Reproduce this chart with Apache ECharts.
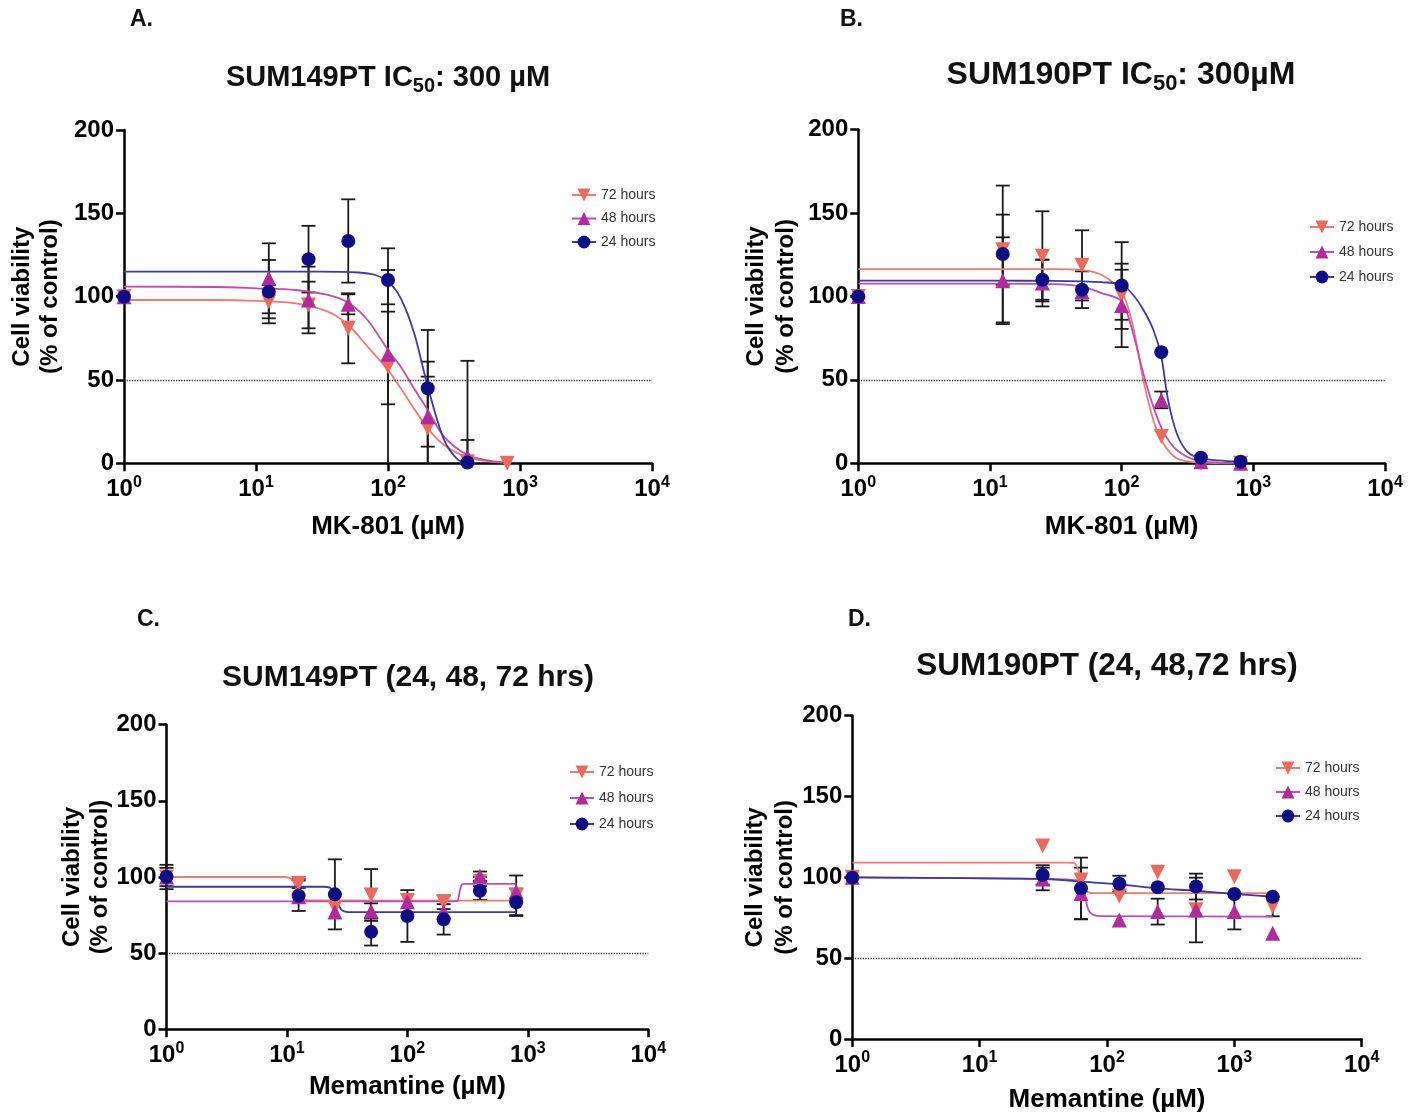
<!DOCTYPE html>
<html><head><meta charset="utf-8">
<script src="https://cdn.jsdelivr.net/npm/echarts@6/dist/echarts.min.js"></script>
<style>html,body{margin:0;padding:0;background:#fff}#c{width:1419px;height:1114px}</style>
</head><body><div id="c"></div>
<script>
// ---------------- DATA ----------------
const seriesNames = ['72 hours', '48 hours', '24 hours'];
const yTickValues = [0, 50, 100, 150, 200];

// Panel A: SUM149PT, MK-801
const concA = [1, 12.5, 25, 50, 100, 200, 400, 800];
const a72 = [100, 97, 95, 81, 58, 21, 1, 0];
const a48 = [100, 111, 98, 95.4, 65.4, 28, 4, null];
const a24 = [100, 103, 122.5, 133.4, 110, 45, 0.5, null];
const a72sd = [0, 10, 14, 21, 58, 31, 0, 0];
const a48sd = [0, 21, 20, 6, 30, 33, 10, 0];
const a24sd = [0, 19, 20, 25, 19, 35, 61, 0];
const aFit72 = [[1,98],[5,98],[10,97.5],[20,96],[35,91],[50,83],[70,70],[100,56],[125,45],[160,32],[200,21],[266,11],[400,3.6],[600,1],[800,0.3]];
const aFit48 = [[1,106],[5,105.8],[10,105],[20,104],[35,101],[50,96.3],[70,86],[100,68],[125,58],[160,44],[200,32],[266,16],[400,5],[600,1.5],[800,0.5]];
const aFit24 = [[1,115],[10,115],[30,115],[60,114.5],[80,113],[100,109],[125,99],[158,78],[200,46],[266,14],[340,2],[400,0.5]];

// Panel B: SUM190PT, MK-801
const concB = [1, 12.5, 25, 50, 100, 200, 400, 800];
const b72 = [100, 128, 124, 118.6, 101, 16, 0.5, 0];
const b48 = [100, 109.4, 108, 103, 94.6, 38, 1, 0];
const b24 = [100, 125.4, 110, 104, 106.5, 66.6, 3.4, 1];
const b72sd = [0, 21, 27, 21, 15, 0, 0, 0];
const b48sd = [0, 26, 14, 0, 25, 5, 0, 0];
const b24sd = [0, 41, 12, 11, 26, 0, 0, 0];
const bFit72 = [[1,116.4],[10,116.4],[30,116.3],[50,115.8],[70,113],[100,103],[122,82],[146,50],[174,26],[207,12],[262,3],[377,0.5],[800,0]];
const bFit48 = [[1,107.6],[10,107.6],[30,107.4],[50,106],[70,102],[100,97],[122,78],[146,54],[174,34],[207,19],[262,8],[377,1.8],[800,0]];
const bFit24 = [[1,109.4],[10,109.4],[30,109.3],[50,109],[70,108.5],[100,107],[122,101],[146,92],[174,80],[200,64],[225,38],[262,18],[315,7],[400,3],[800,1]];

// Panel C: SUM149PT, Memantine
const concC = [1, 12.5, 25, 50, 100, 200, 400, 800];
const c72 = [100, 95.8, 80, 88.2, 84.5, 83.4, 97, 88];
const c48 = [100, 87, 77, 77.7, 83.8, 77.2, 100.6, 90.3];
const c24 = [100.2, 87.7, 88.6, 64, 74.4, 72.2, 91, 83.4];
const c72sd = [8, 3, 0, 17, 0, 4.5, 3, 13];
const c48sd = [6, 0, 0, 5, 0, 0, 3, 0];
const c24sd = [0, 10, 23, 9, 17, 10, 6, 9];
const cFit72 = [[1,100],[9.5,100],[10.5,99.3],[11.3,97],[11.8,93],[12.3,88.5],[13,86],[14,85],[16,84.6],[800,84.5]];
const cFit48 = [[1,84],[250,84],[262,84.6],[268,88],[274,92],[282,94.8],[300,95.5],[800,95.5]];
const cFit24 = [[1,93.6],[20,93.6],[22.7,93],[24.5,90],[26,85],[27.5,80],[29,77.8],[32,77],[800,77]];

// Panel D: SUM190PT, Memantine
const concD = [1, 31.25, 62.5, 125, 250, 500, 1000, 2000];
const d72 = [100, 119.4, 98.4, 88.5, 103.2, 80, 100.4, 81.9];
const d48 = [100, 99, 90, 73.6, 78.8, 79.8, 78.8, 65.4];
const d24 = [99.8, 101.5, 93.2, 96, 93.9, 94.3, 89.7, 88];
const d72sd = [0, 0, 0, 0, 0, 0, 0, 6];
const d48sd = [0, 7, 16, 0, 8, 20, 11, 0];
const d24sd = [0, 6, 19, 5, 0, 8, 0, 0];
const dFit72 = [[1,109.1],[50,109.1],[56,108.5],[60,104],[64,96],[68,92],[72,90.5],[80,90.2],[2000,90.2]];
const dFit48 = [[1,100],[31.25,99],[60,98],[64,96],[67,90],[70,82],[74,78],[80,76.5],[90,76],[2000,75.7]];
const dFit24 = [[1,100],[31.25,99],[62.5,97.3],[125,95.7],[250,93.2],[500,91.7],[1000,89.7],[2000,88]];

// ---------------- STYLE ----------------
const FONT = 'Liberation Sans, Arial, Helvetica, sans-serif';
const pointColors = ['#EC6A5C', '#B22A9C', '#0E0E86'];
const lineColors = ['#F07A72', '#C24DB2', '#3B3BA8'];
const symbols = ['triangle', 'triangle', 'circle'];
const symbolRot = [180, 0, 0];
const symbolSizes = [15, 15, 14];

const panels = [
  { conc: concA, means: [a72, a48, a24], sds: [a72sd, a48sd, a24sd], fits: [aFit72, aFit48, aFit24],
    grid: { left: 124, top: 130, width: 528, height: 333.3 }, xName: 'MK-801 (µM)', xGap: 51, yGap: 60, yLH: 28,
    legend: { left: 566, top: 183, gap: 9.5 } },
  { conc: concB, means: [b72, b48, b24], sds: [b72sd, b48sd, b24sd], fits: [bFit72, bFit48, bFit24],
    grid: { left: 858.3, top: 129.5, width: 526.7, height: 333.8 }, xName: 'MK-801 (µM)', xGap: 51, yGap: 57, yLH: 30,
    legend: { left: 1304, top: 215, gap: 11 } },
  { conc: concC, means: [c72, c48, c24], sds: [c72sd, c48sd, c24sd], fits: [cFit72, cFit48, cFit24],
    grid: { left: 166.5, top: 724.7, width: 481.8, height: 304.6 }, xName: 'Memantine (µM)', xGap: 45, yGap: 52, yLH: 28,
    legend: { left: 564, top: 760, gap: 12 } },
  { conc: concD, means: [d72, d48, d24], sds: [d72sd, d48sd, d24sd], fits: [dFit72, dFit48, dFit24],
    grid: { left: 852.3, top: 715.7, width: 509.4, height: 323.3 }, xName: 'Memantine (µM)', xGap: 48, yGap: 52, yLH: 30,
    legend: { left: 1270, top: 756, gap: 10 } }
];

const grids = [], xAxes = [], yAxes = [], series = [], legends = [];

panels.forEach((p, i) => {
  grids.push(Object.assign({ outerBoundsMode: 'none', containLabel: false }, p.grid));
  xAxes.push({
    type: 'log', logBase: 10, min: 1, max: 10000, gridIndex: i,
    axisLine: { show: true, lineStyle: { color: '#000', width: 2.5 } },
    axisTick: { show: true, length: 8, lineStyle: { color: '#000', width: 2.5 } },
    minorTick: { show: false }, splitLine: { show: false }, minorSplitLine: { show: false },
    axisLabel: {
      margin: 11, color: '#000',
      formatter: v => '{b|10}{s|' + Math.round(Math.log10(v)) + '}',
      rich: {
        b: { fontSize: 24, fontWeight: 'bold', fontFamily: FONT, color: '#000', lineHeight: 30, verticalAlign: 'middle' },
        s: { fontSize: 16, fontWeight: 'bold', fontFamily: FONT, color: '#000', lineHeight: 16, verticalAlign: 'top' }
      }
    },
    name: p.xName, nameLocation: 'middle', nameGap: p.xGap, nameMoveOverlap: false,
    nameTextStyle: { fontSize: 26, fontWeight: 'bold', fontFamily: FONT, color: '#000' }
  });
  yAxes.push({
    type: 'value', min: 0, max: 200, interval: 50, gridIndex: i,
    axisLine: { show: true, lineStyle: { color: '#000', width: 2.5 } },
    axisTick: { show: true, length: 8, lineStyle: { color: '#000', width: 2.5 } },
    splitLine: { show: false },
    axisLabel: { margin: 10, color: '#000', fontSize: 24, fontWeight: 'bold', fontFamily: FONT,
      customValues: yTickValues },
    name: 'Cell viability\n(% of control)', nameLocation: 'middle', nameGap: p.yGap, nameMoveOverlap: false,
    nameTextStyle: { fontSize: 24, fontWeight: 'bold', fontFamily: FONT, color: '#000', lineHeight: p.yLH }
  });
  legends.push({
    orient: 'vertical', left: p.legend.left, top: p.legend.top, itemGap: p.legend.gap,
    itemWidth: 24, itemHeight: 16, selectedMode: false, data: seriesNames,
    textStyle: { fontSize: 14, color: '#333', fontFamily: FONT }
  });
  // fitted curves (first series with each name -> legend icon)
  seriesNames.forEach((nm, s) => {
    const ser = {
      type: 'line', name: nm, xAxisIndex: i, yAxisIndex: i, z: 3,
      data: p.fits[s], showSymbol: false, symbol: symbols[s], symbolRotate: symbolRot[s], symbolSize: symbolSizes[s],
      smooth: 0.3, silent: true,
      lineStyle: { color: lineColors[s], width: 1.8 },
      itemStyle: { color: pointColors[s] }
    };
    if (s === 0) {
      ser.markLine = { silent: true, symbol: 'none', label: { show: false },
        lineStyle: { type: 'dotted', color: '#333', width: 1.3 }, data: [{ yAxis: 50 }] };
    }
    series.push(ser);
  });
  // error bars
  const errData = [];
  seriesNames.forEach((nm, s) => {
    p.conc.forEach((c, j) => {
      const m = p.means[s][j], sd = p.sds[s][j];
      if (m != null && sd > 0) errData.push([c, Math.max(m - sd, 0), m + sd]);
    });
  });
  series.push({
    type: 'custom', name: 'err', xAxisIndex: i, yAxisIndex: i, z: 2, silent: true,
    encode: { x: 0, y: [1, 2] },
    data: errData,
    renderItem: (params, api) => {
      const x = api.value(0), lo = api.value(1), hi = api.value(2);
      const t = api.coord([x, hi]), b = api.coord([x, lo]);
      const w = 7, st = { stroke: '#1a1a1a', lineWidth: 1.8 };
      const ch = [
        { type: 'line', shape: { x1: t[0], y1: t[1], x2: b[0], y2: b[1] }, style: st },
        { type: 'line', shape: { x1: t[0] - w, y1: t[1], x2: t[0] + w, y2: t[1] }, style: st }
      ];
      if (lo > 0) ch.push({ type: 'line', shape: { x1: b[0] - w, y1: b[1], x2: b[0] + w, y2: b[1] }, style: st });
      return { type: 'group', children: ch };
    }
  });
  // points
  seriesNames.forEach((nm, s) => {
    const pts = [];
    p.conc.forEach((c, j) => { if (p.means[s][j] != null) pts.push([c, p.means[s][j]]); });
    series.push({
      type: 'scatter', name: nm, xAxisIndex: i, yAxisIndex: i, z: 4 + s,
      symbol: symbols[s], symbolRotate: symbolRot[s], symbolSize: symbolSizes[s],
      itemStyle: { color: pointColors[s], opacity: 1 }, data: pts
    });
  });
});

const titleStyle = (txt, size) => ({
  text: txt, fontSize: size, fontWeight: 'bold', fontFamily: FONT, fill: '#111',
  align: 'center', verticalAlign: 'middle', lineHeight: size + 8,
  rich: { sub: { fontSize: Math.round(size * 0.68), fontWeight: 'bold', fontFamily: FONT, fill: '#111',
    lineHeight: Math.round(size * 0.68), verticalAlign: 'bottom' } }
});
const letterStyle = txt => ({ text: txt, fontSize: 23, fontWeight: 'bold', fontFamily: FONT, fill: '#111',
  align: 'left', verticalAlign: 'middle' });

const option = {
  backgroundColor: '#fff',
  animation: false,
  textStyle: { fontFamily: FONT },
  grid: grids, xAxis: xAxes, yAxis: yAxes, legend: legends, series: series,
  graphic: [
    { type: 'text', x: 130, y: 20, style: letterStyle('A.') },
    { type: 'text', x: 840, y: 20, style: letterStyle('B.') },
    { type: 'text', x: 137, y: 620, style: letterStyle('C.') },
    { type: 'text', x: 848, y: 620, style: letterStyle('D.') },
    { type: 'text', x: 388, y: 78, style: titleStyle('SUM149PT IC{sub|50}: 300 µM', 29) },
    { type: 'text', x: 1121, y: 75, style: titleStyle('SUM190PT IC{sub|50}: 300µM', 32) },
    { type: 'text', x: 408, y: 678, style: titleStyle('SUM149PT (24, 48, 72 hrs)', 30) },
    { type: 'text', x: 1107, y: 666, style: titleStyle('SUM190PT (24, 48,72 hrs)', 31.5) }
  ]
};

const chart = echarts.init(document.getElementById('c'), null, { renderer: 'canvas', width: 1419, height: 1114 });
chart.setOption(option);
</script>
</body></html>
